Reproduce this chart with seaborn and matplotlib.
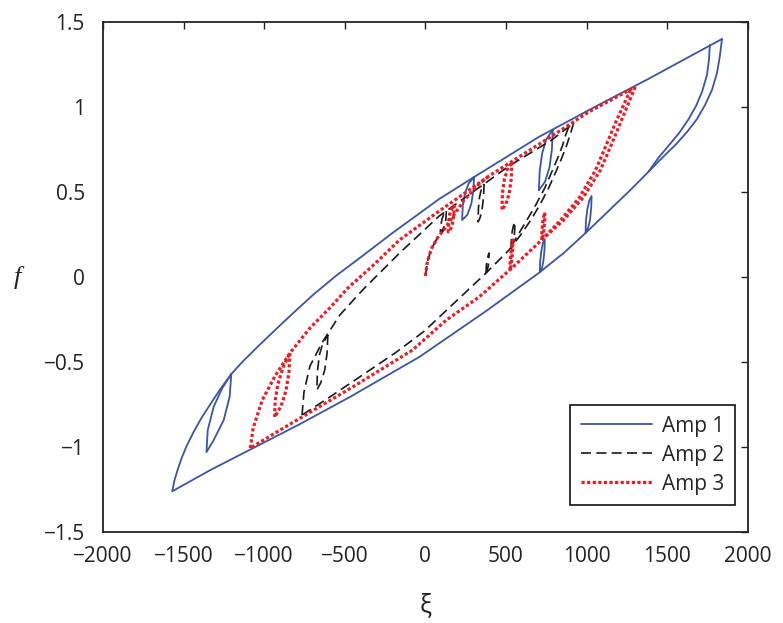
import pandas as pd
import matplotlib.pyplot as plt
import seaborn as sns
from matplotlib.lines import Line2D
from matplotlib.ticker import FuncFormatter, MultipleLocator

# ---- Amp 1 (blue): outer loop, inner descending branch and small inner loops
amp1_up_x = [-1570, -1556, -1537, -1512, -1481, -1438, -1389, -1333, -1272, -1204, -1130, -1049,
             -951, -827, -698, -556, -407, -204, 86, 302, 704, 1074, 1383, 1840]
amp1_up_f = [-1.26, -1.194, -1.135, -1.065, -0.994, -0.912, -0.829, -0.747, -0.659, -0.571, -0.494, -0.418,
             -0.329, -0.218, -0.106, 0.006, 0.112, 0.259, 0.459, 0.588, 0.824, 1.012, 1.165, 1.40]
amp1_down_x = [1840, 1827, 1809, 1778, 1735, 1685, 1623, 1556, 1481, 1383, 1272, 1136, 994, 858, 704,
               377, -37, -469, -778, -1105, -1333, -1570]
amp1_down_f = [1.40, 1.30, 1.20, 1.10, 1.012, 0.929, 0.853, 0.782, 0.712, 0.618, 0.512, 0.388, 0.259, 0.141, 0.024,
               -0.20, -0.47, -0.706, -0.865, -1.024, -1.135, -1.26]
amp1_inner_x = [1765, 1759, 1747, 1716, 1679, 1630, 1574, 1512, 1450, 1383]
amp1_inner_f = [1.365, 1.276, 1.188, 1.088, 1.006, 0.924, 0.847, 0.776, 0.706, 0.618]
amp1_loopa_x = [-1204, -1214, -1251, -1313, -1358, -1350, -1313, -1261, -1204]
amp1_loopa_f = [-0.571, -0.704, -0.841, -0.959, -1.03, -0.90, -0.763, -0.655, -0.571]
amp1_loopb_x = [302, 298, 285, 260, 228, 232, 245, 268, 302]
amp1_loopb_f = [0.588, 0.51, 0.43, 0.365, 0.335, 0.42, 0.49, 0.55, 0.588]
amp1_loopc_x = [790, 785, 770, 742, 704, 709, 724, 750, 790]
amp1_loopc_f = [0.865, 0.75, 0.645, 0.56, 0.51, 0.62, 0.725, 0.81, 0.865]
amp1_loopd_x = [994, 996, 1005, 1017, 1031, 1029, 1022, 1010, 994]
amp1_loopd_f = [0.259, 0.33, 0.40, 0.45, 0.476, 0.41, 0.34, 0.29, 0.259]
amp1_loope_x = [710, 712, 719, 729, 741, 739, 733, 723, 710]
amp1_loope_f = [0.03, 0.09, 0.15, 0.20, 0.22, 0.16, 0.10, 0.05, 0.03]

# ---- Amp 2 (black dashed)
amp2_virgin_x = [0, 12, 37, 74, 123]
amp2_virgin_f = [0.006, 0.088, 0.165, 0.229, 0.288]
amp2_up_x = [-765, -753, -716, -642, -531, -389, -160, 86, 364, 519, 784, 920]
amp2_up_f = [-0.812, -0.676, -0.524, -0.388, -0.224, -0.076, 0.141, 0.359, 0.547, 0.653, 0.806, 0.906]
amp2_down_x = [920, 901, 877, 846, 809, 765, 710, 654, 586, 519, 377, -6, -179, -389, -593, -765]
amp2_down_f = [0.906, 0.847, 0.776, 0.70, 0.618, 0.524, 0.424, 0.335, 0.241, 0.159, 0.024, -0.318, -0.441,
               -0.576, -0.706, -0.812]
amp2_inner_x = [889, 870, 852, 821, 784, 741, 685, 630, 560, 519]
amp2_inner_f = [0.882, 0.835, 0.776, 0.70, 0.618, 0.524, 0.424, 0.335, 0.225, 0.159]
amp2_loopa_x = [130, 127, 118, 105, 93, 95, 103, 114, 130]
amp2_loopa_f = [0.388, 0.34, 0.30, 0.275, 0.265, 0.30, 0.34, 0.37, 0.388]
amp2_loopb_x = [364, 361, 352, 340, 327, 329, 336, 348, 364]
amp2_loopb_f = [0.547, 0.47, 0.40, 0.35, 0.324, 0.40, 0.47, 0.52, 0.547]
amp2_loopc_x = [-605, -610, -625, -648, -673, -670, -658, -636, -605]
amp2_loopc_f = [-0.341, -0.45, -0.55, -0.62, -0.665, -0.56, -0.46, -0.39, -0.341]
amp2_loopd_x = [377, 378, 383, 389, 395, 394, 390, 384, 377]
amp2_loopd_f = [0.024, 0.065, 0.10, 0.125, 0.141, 0.10, 0.065, 0.04, 0.024]
amp2_loope_x = [531, 533, 539, 547, 556, 554, 549, 541, 531]
amp2_loope_f = [0.165, 0.22, 0.27, 0.305, 0.324, 0.27, 0.22, 0.185, 0.165]

# ---- Amp 3 (red dotted)
amp3_virgin_x = [0, 12, 37, 74, 123, 173, 241, 333, 395]
amp3_virgin_f = [0.006, 0.088, 0.165, 0.229, 0.288, 0.359, 0.453, 0.547, 0.594]
amp3_up_x = [-1086, -1068, -1012, -932, -840, -716, -593, -481, -315, -160, 86, 395, 747, 1012, 1302]
amp3_up_f = [-1.006, -0.888, -0.724, -0.582, -0.447, -0.30, -0.182, -0.065, 0.076, 0.218, 0.388, 0.594, 0.806, 0.97, 1.118]
amp3_down_x = [1302, 1210, 1148, 1086, 981, 858, 722, 537, 333, 130, -80, -451, -901, -1086]
amp3_down_f = [1.118, 0.906, 0.765, 0.629, 0.47, 0.335, 0.218, 0.053, -0.118, -0.253, -0.43, -0.647, -0.90, -1.006]
amp3_inner_x = [1272, 1179, 1117, 1056, 957, 840, 722]
amp3_inner_f = [1.10, 0.906, 0.765, 0.629, 0.47, 0.335, 0.218]
amp3_loopa_x = [-840, -846, -865, -895, -935, -932, -915, -882, -840]
amp3_loopa_f = [-0.447, -0.56, -0.67, -0.76, -0.824, -0.73, -0.63, -0.53, -0.447]
amp3_loopb_x = [179, 176, 167, 156, 142, 144, 151, 163, 179]
amp3_loopb_f = [0.424, 0.36, 0.31, 0.28, 0.265, 0.32, 0.37, 0.40, 0.424]
amp3_loopc_x = [537, 533, 520, 500, 475, 478, 489, 508, 537]
amp3_loopc_f = [0.676, 0.58, 0.49, 0.43, 0.394, 0.49, 0.57, 0.63, 0.676]
amp3_loopd_x = [722, 723, 728, 734, 741, 740, 736, 730, 722]
amp3_loopd_f = [0.218, 0.27, 0.32, 0.355, 0.38, 0.33, 0.28, 0.24, 0.218]
amp3_loope_x = [525, 526, 531, 537, 543, 542, 538, 532, 525]
amp3_loope_f = [0.04, 0.09, 0.14, 0.18, 0.218, 0.17, 0.12, 0.07, 0.04]

labels = ['Amp 1', 'Amp 2', 'Amp 3']


def to_frame(pairs):
    parts = [pd.DataFrame({'xi': xs, 'f': fs, 'seg': i}) for i, (xs, fs) in enumerate(pairs)]
    return pd.concat(parts, ignore_index=True)


df1 = to_frame([(amp1_up_x, amp1_up_f), (amp1_down_x, amp1_down_f), (amp1_inner_x, amp1_inner_f),
                (amp1_loopa_x, amp1_loopa_f), (amp1_loopb_x, amp1_loopb_f), (amp1_loopc_x, amp1_loopc_f),
                (amp1_loopd_x, amp1_loopd_f), (amp1_loope_x, amp1_loope_f)])
df2 = to_frame([(amp2_virgin_x, amp2_virgin_f), (amp2_up_x, amp2_up_f), (amp2_down_x, amp2_down_f),
                (amp2_inner_x, amp2_inner_f), (amp2_loopa_x, amp2_loopa_f), (amp2_loopb_x, amp2_loopb_f),
                (amp2_loopc_x, amp2_loopc_f), (amp2_loopd_x, amp2_loopd_f), (amp2_loope_x, amp2_loope_f)])
df3 = to_frame([(amp3_virgin_x, amp3_virgin_f), (amp3_up_x, amp3_up_f), (amp3_down_x, amp3_down_f),
                (amp3_inner_x, amp3_inner_f), (amp3_loopa_x, amp3_loopa_f), (amp3_loopb_x, amp3_loopb_f),
                (amp3_loopc_x, amp3_loopc_f), (amp3_loopd_x, amp3_loopd_f), (amp3_loope_x, amp3_loope_f)])

sns.set_theme(style="white")
plt.rcParams['font.family'] = ['Open Sans', 'DejaVu Sans']

blue = '#3A55A5'
red = '#ED1C24'
black = '#1A1A1A'
styles = [
    dict(color=blue, lw=1.3, linestyle='-'),
    dict(color=black, lw=1.2, linestyle=(0, (6, 3.2))),
    dict(color=red, lw=2.3, linestyle=(0, (1, 0.75))),
]

fig = plt.figure(figsize=(7.83, 6.23), dpi=100)
ax = fig.add_axes([0.1315, 0.146, 0.8235, 0.8187])

for df, st in zip([df1, df2, df3], styles):
    sns.lineplot(data=df, x='xi', y='f', units='seg', estimator=None, sort=False,
                 ax=ax, legend=False, **st)

ax.set_xlim(-2000, 2000)
ax.set_ylim(-1.5, 1.5)
ax.xaxis.set_major_locator(MultipleLocator(500))
ax.yaxis.set_major_locator(MultipleLocator(0.5))
fmt = FuncFormatter(lambda v, p: f'{v:g}'.replace('-', '\u2212'))
ax.xaxis.set_major_formatter(fmt)
ax.yaxis.set_major_formatter(fmt)
ax.tick_params(direction='in', length=5, width=1, colors='#222222', labelsize=15,
               top=True, right=True, labelcolor='#222222')
ax.tick_params(axis='x', pad=10)
ax.tick_params(axis='y', pad=13)
for s in ax.spines.values():
    s.set_color('#222222')
    s.set_linewidth(1.3)

ax.set_xlabel('\u03be', fontsize=18, color='#222222')
ax.set_ylabel('f', fontsize=19, family='Liberation Serif', style='italic', rotation=0,
              color='#222222', ha='center', va='center')
ax.xaxis.set_label_coords(0.5, -0.12)
ax.yaxis.set_label_coords(-0.132, 0.5)

handles = [Line2D([], [], **st) for st in styles]
leg = ax.legend(handles, labels, loc='lower right', bbox_to_anchor=(0.98, 0.053), fontsize=15,
                handlelength=3.4, labelspacing=0.38, borderaxespad=0, fancybox=False, framealpha=1,
                edgecolor='#111111', handletextpad=0.5, borderpad=0.5)
leg.get_frame().set_linewidth(1.2)

fig.savefig('out.png', dpi=100)
